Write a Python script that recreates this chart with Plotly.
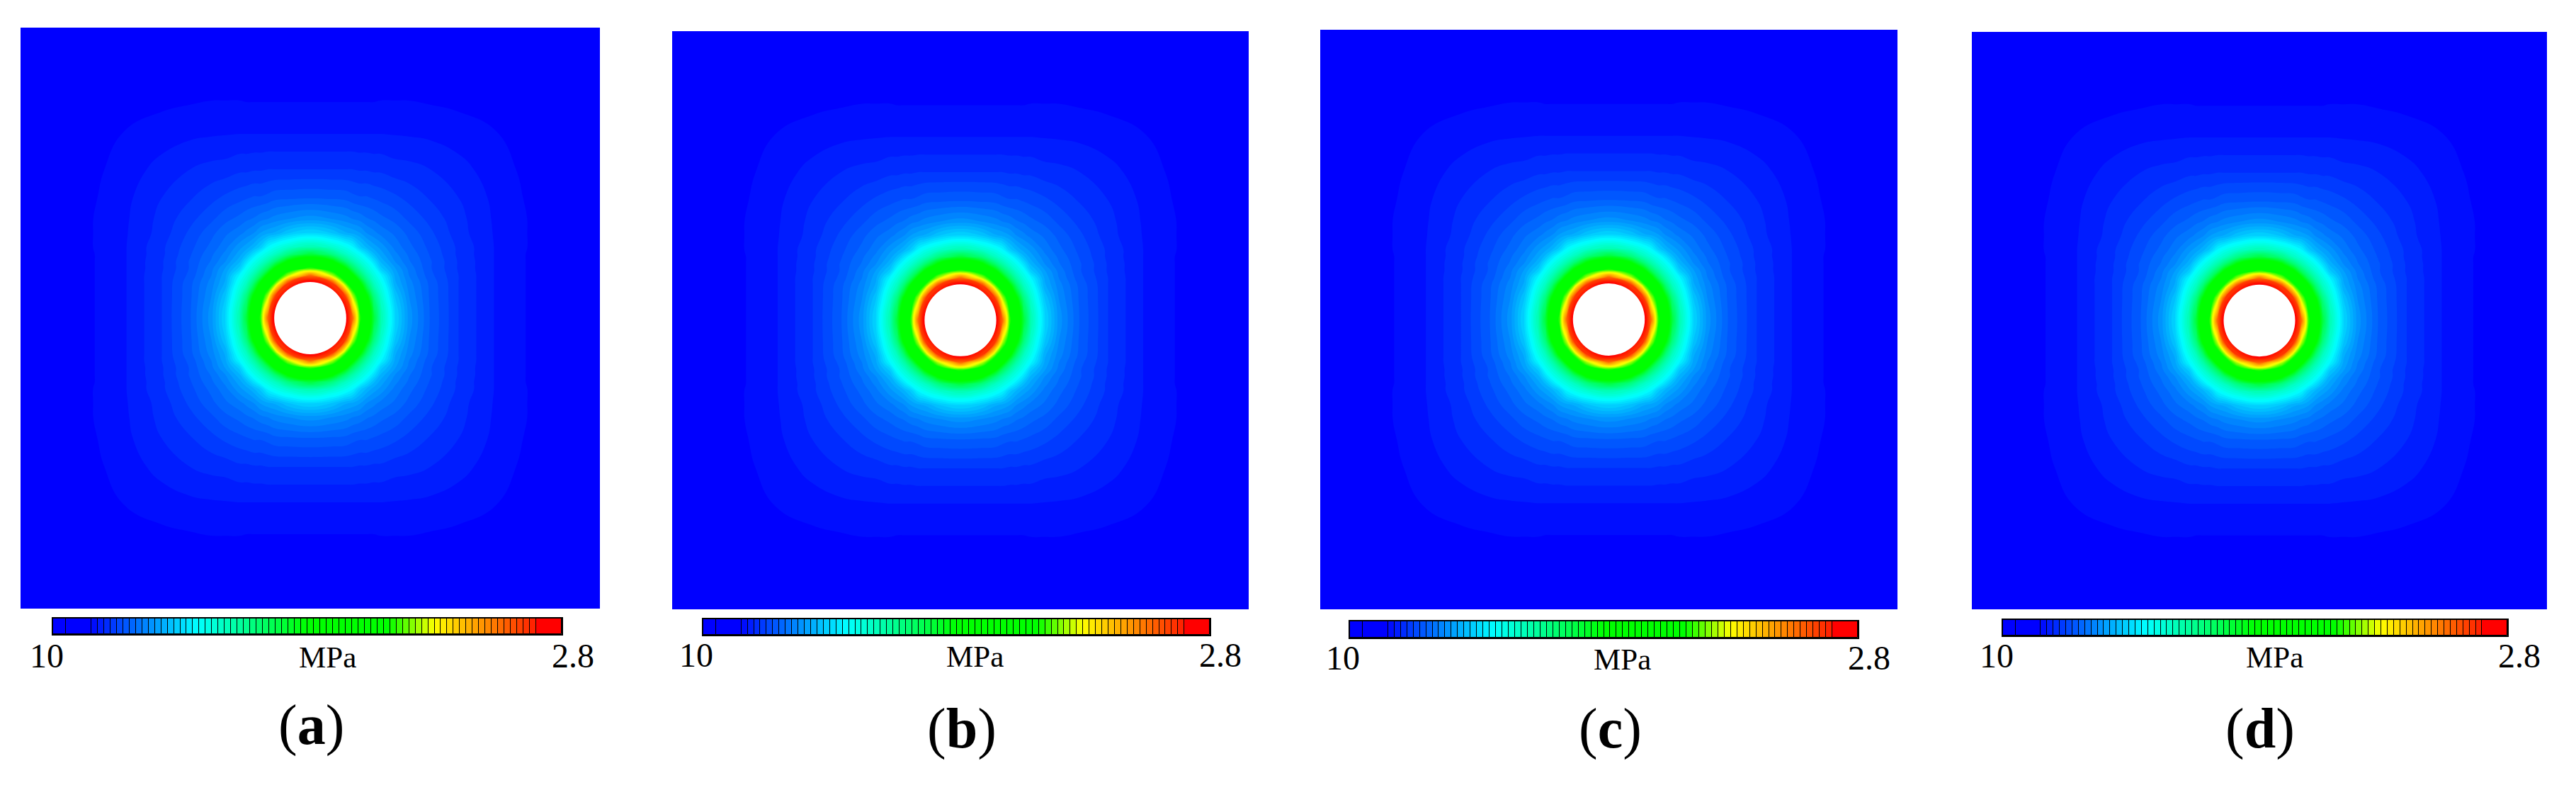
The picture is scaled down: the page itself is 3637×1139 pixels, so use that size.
import plotly.graph_objects as go

W, H = 3637, 1139

# Field: stress (MPa) on one quadrant, upper triangle of a
# symmetric table. Row i holds y = grid_offset[i], x = grid_offset[i:], in image pixels from the hole centre.
grid_offset = [0, 30, 50, 60, 70, 80, 90, 100, 120, 140, 170, 210, 260, 310, 360, 410]
stress_rows = [
    [2.8, 2.8, 2.8, 3.64, 5.1, 5.86, 6.75, 7.45, 8.18, 8.6, 8.93, 9.19, 9.37, 9.47, 9.58, 9.68],
    [2.8, 3.35, 4.75, 5.56, 6.27, 7.15, 7.63, 8.29, 8.65, 8.94, 9.19, 9.37, 9.47, 9.58, 9.68],
    [5.15, 5.71, 6.32, 7.1, 7.58, 7.84, 8.45, 8.7, 8.95, 9.19, 9.37, 9.47, 9.58, 9.68],
    [6.25, 6.97, 7.43, 7.74, 7.99, 8.49, 8.74, 8.98, 9.19, 9.37, 9.47, 9.58, 9.68],
    [7.37, 7.68, 7.9, 8.25, 8.55, 8.77, 9.0, 9.2, 9.37, 9.47, 9.58, 9.68],
    [7.87, 8.13, 8.4, 8.65, 8.82, 9.0, 9.2, 9.37, 9.47, 9.58, 9.68],
    [8.36, 8.51, 8.71, 8.85, 9.02, 9.21, 9.37, 9.47, 9.58, 9.68],
    [8.59, 8.77, 8.89, 9.04, 9.21, 9.37, 9.465, 9.58, 9.68],
    [8.85, 8.95, 9.08, 9.24, 9.375, 9.465, 9.58, 9.68],
    [9.03, 9.13, 9.25, 9.38, 9.465, 9.58, 9.68],
    [9.2, 9.28, 9.39, 9.475, 9.58, 9.68],
    [9.34, 9.41, 9.49, 9.58, 9.68],
    [9.45, 9.52, 9.61, 9.68],
    [9.57, 9.63, 9.71],
    [9.68, 9.74],
    [9.77],
]
hole_radius = [51]
stress_low, stress_high = 2.8, 10.0
level_step = [0.09]
# colour-bar cells, left to right (MPa edges); the first cells are wider in the picture
bar_edges = [10.0, 9.82, 9.46] + [round(9.46 - 0.09 * k, 2) for k in range(1, 71)] + [2.8]
bar_labels = ["10", "MPa", "2.8"]
panel_names = ["a", "b", "c", "d"]

jet_scale = [
    [0.0, "#ff0000"], [0.025, "#ff0000"], [0.25, "#ffff00"], [0.34, "#00ff00"],
    [0.5, "#00ff00"], [0.715, "#00ffff"], [0.93, "#0000ff"], [1.0, "#0000ff"],
]

# page layout in pixels: field box, bar box, label centres, baseline, caption
panels = [
    dict(box=(29, 39, 847, 859), bar=(75, 873, 793, 895), lab=(66, 462, 809), base=941, cap=(439, 1023)),
    dict(box=(949, 44, 1763, 860), bar=(993, 874, 1708, 896), lab=(983, 1376, 1723), base=940, cap=(1358, 1028)),
    dict(box=(1864, 42, 2679, 860), bar=(1906, 877, 2623, 900), lab=(1896, 2290, 2639), base=944, cap=(2273, 1028)),
    dict(box=(2784, 45, 3596, 860), bar=(2828, 875, 3540, 897), lab=(2819, 3211, 3557), base=941, cap=(3191, 1028)),
]

# full symmetric field from the quadrant table
n = len(grid_offset)
quad = [[stress_rows[min(i, j)][abs(i - j)] for j in range(n)] for i in range(n)]
axis = [-v for v in grid_offset[:0:-1]] + grid_offset
idx = list(range(n - 1, 0, -1)) + list(range(n))
field = [[quad[i][j] for j in idx] for i in idx]

bar_x = [(a + b) / 2 for a, b in zip(bar_edges[:-1], bar_edges[1:])]
bar_w = [a - b for a, b in zip(bar_edges[:-1], bar_edges[1:])]

fig = go.Figure()
layout = dict(
    width=W, height=H, margin=dict(l=0, r=0, t=0, b=0), paper_bgcolor="white",
    plot_bgcolor="white", showlegend=False, bargap=0, shapes=[], annotations=[],
)


def fx(p):
    return p / W


def fy(p):
    return 1 - p / H


for k, (name, p) in enumerate(zip(panel_names, panels)):
    a1, a2 = 2 * k + 1, 2 * k + 2
    x0, y0, x1, y1 = p["box"]
    bx0, by0, bx1, by1 = p["bar"]
    fig.add_trace(go.Contour(
        x=axis, y=axis, z=field, xaxis=f"x{a1}", yaxis=f"y{a1}",
        colorscale=jet_scale, zmin=stress_low, zmax=stress_high, showscale=False,
        contours=dict(coloring="fill", start=stress_low, end=stress_high, size=level_step[0], showlines=False),
        line=dict(width=0, smoothing=1.3),
    ))
    fig.add_trace(go.Bar(
        x=bar_x, y=[1] * len(bar_x), width=bar_w, xaxis=f"x{a2}", yaxis=f"y{a2}",
        marker=dict(color=bar_x, colorscale=jet_scale, cmin=stress_low, cmax=stress_high,
                    line=dict(color="black", width=1)),
        cliponaxis=True,
    ))
    hidden = dict(visible=False, showgrid=False, zeroline=False)
    layout[f"xaxis{a1}"] = dict(domain=[fx(x0), fx(x1)], range=[axis[0], axis[-1]], anchor=f"y{a1}", **hidden)
    layout[f"yaxis{a1}"] = dict(domain=[fy(y1), fy(y0)], range=[axis[0], axis[-1]], anchor=f"x{a1}", **hidden)
    frame = dict(visible=True, showgrid=False, zeroline=False, showticklabels=False, ticks="",
                 showline=True, linecolor="black", linewidth=2, mirror=True)
    layout[f"xaxis{a2}"] = dict(domain=[fx(bx0), fx(bx1)], range=[stress_high, stress_low], anchor=f"y{a2}", **frame)
    layout[f"yaxis{a2}"] = dict(domain=[fy(by1), fy(by0)], range=[0, 1], anchor=f"x{a2}", **frame)
    layout["shapes"].append(dict(
        type="circle", xref=f"x{a1}", yref=f"y{a1}",
        x0=-hole_radius[0], x1=hole_radius[0], y0=-hole_radius[0], y1=hole_radius[0],
        fillcolor="white", line=dict(width=0), layer="above",
    ))
    for text, cx in zip(bar_labels, p["lab"]):
        size = 43 if text == "MPa" else 48
        layout["annotations"].append(dict(
            text=text, x=fx(cx), y=fy(p["base"] + size * 0.26), xref="paper", yref="paper",
            xanchor="center", yanchor="bottom", showarrow=False, borderpad=0,
            font=dict(family="Liberation Serif", size=size, color="black"),
        ))
    layout["annotations"].append(dict(
        text=f"(<b>{name}</b>)", x=fx(p["cap"][0]), y=fy(p["cap"][1]), xref="paper", yref="paper",
        xanchor="center", yanchor="middle", showarrow=False, borderpad=0,
        font=dict(family="Liberation Serif", size=80, color="black"),
    ))

fig.update_layout(**layout)
fig.write_html("out.html", config=dict(displayModeBar=False),
               post_script="document.body.style.margin='0';")
